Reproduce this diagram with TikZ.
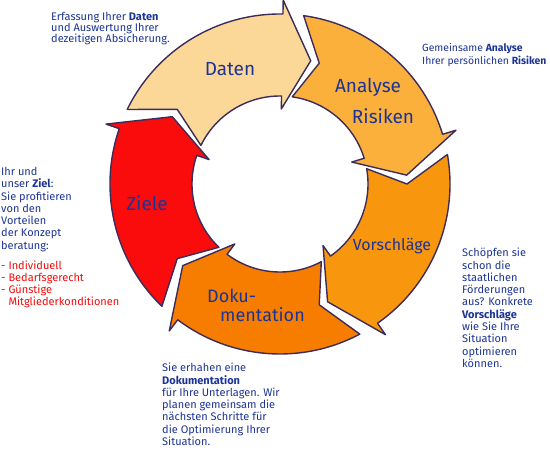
\documentclass[tikz,border=0pt]{standalone}
\usepackage{fontspec}
\setmainfont{Fira Sans}
\definecolor{txtblue}{RGB}{28,52,148}
\definecolor{txtred}{RGB}{240,10,10}
\definecolor{rimcol}{RGB}{60,44,92}
\definecolor{segdaten}{RGB}{252,216,152}
\definecolor{seganalyse}{RGB}{251,176,60}
\definecolor{segvor}{RGB}{248,150,14}
\definecolor{segdoku}{RGB}{247,125,0}
\definecolor{segziele}{RGB}{250,12,12}
\begin{document}
\begin{tikzpicture}[x=1pt, y=1pt,
    seg/.style={draw=rimcol, line width=1.4pt, line join=round},
    lbl/.style={text=txtblue, inner sep=0pt, font=\fontsize{19}{19}\selectfont},
    note/.style={text=txtblue, inner sep=0pt, anchor=north west, align=left,
                 font=\fontsize{11}{12.3}\selectfont}
]
    \useasboundingbox (0,0) rectangle (550,451);

    \begin{scope}[shift={(280,267)}]
    \foreach \t/\col in {154/segdaten, 82/seganalyse, 10/segvor, -62/segdoku, -134/segziele}{
        \pgfmathsetmacro{\p}{\t-78}
        \pgfmathsetmacro{\b}{\t-65}
        \pgfmathsetmacro{\n}{\t-10}
        \filldraw[seg, fill=\col] (\t:170pt) arc[start angle=\t, end angle=\b, radius=170pt]
            -- (\b:184pt) -- (\p:127pt) -- (\b:75pt) -- (\b:88pt)
            arc[start angle=\b, end angle=\t, radius=88pt] -- (\n:127pt) -- cycle;
    }
    \end{scope}

    \node[lbl] (daten)   at (230,382) {Daten};
    \node[lbl] (analyse) at (368,364) {Analyse};
    \node[lbl] (risiken) at (383,335) {Risiken};
    \node[lbl, font=\fontsize{16}{16}\selectfont] (vorschl) at (392,205) {Vorschläge};
    \node[lbl, font=\fontsize{18}{18}\selectfont, anchor=west] (doku) at (207,155) {Doku-};
    \node[lbl, font=\fontsize{18}{18}\selectfont, anchor=west] (mentation) at (220,136) {mentation};
    \node[lbl] (ziele)   at (147,248) {Ziele};

    \node[note, font=\fontsize{11}{11}\selectfont] (txtdaten) at (51,439)
        {Erfassung Ihrer \textbf{Daten}\\und Auswertung Ihrer\\dezeitigen Absicherung.};
    \node[note, font=\fontsize{10.4}{12.7}\selectfont] (txtanalyse) at (422,408)
        {Gemeinsame \textbf{Analyse}\\Ihrer persönlichen \textbf{Risiken}};
    \node[note] (txtziele) at (1,284)
        {Ihr und\\unser \textbf{Ziel}:\\Sie profitieren\\von den\\Vorteilen\\der Konzept\\beratung:\\[7.5pt]
         \textcolor{txtred}{- Individuell}\\\textcolor{txtred}{- Bedarfsgerecht}\\
         \textcolor{txtred}{- Günstige}\\\textcolor{txtred}{\hphantom{- }Mitgliederkonditionen}};
    \node[note] (txtvor) at (462,203)
        {Schöpfen sie\\schon die\\staatlichen\\Förderungen\\aus? Konkrete\\\textbf{Vorschläge}\\wie Sie Ihre\\Situation\\optimieren\\können.};
    \node[note] (txtdoku) at (162,88)
        {Sie erhahen eine\\\textbf{Dokumentation}\\für Ihre Unterlagen. Wir\\planen gemeinsam die\\nächsten Schritte für\\die Optimierung Ihrer\\Situation.};
\end{tikzpicture}
\end{document}
